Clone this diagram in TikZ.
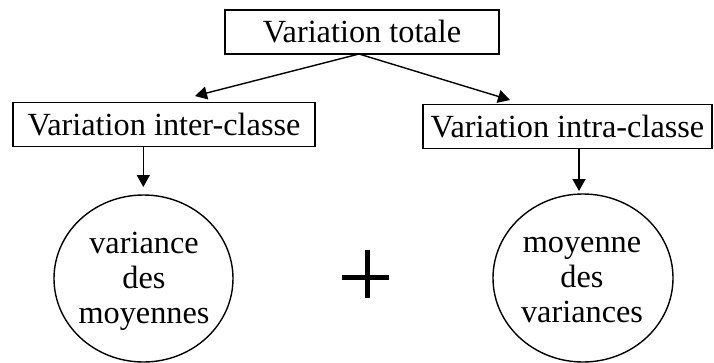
\documentclass[tikz,border=0pt]{standalone}
\usepackage{fontspec}
\setmainfont{Liberation Serif}
\usetikzlibrary{arrows.meta,shapes.geometric}
\begin{document}
\begin{tikzpicture}[x=1pt,y=-1pt,
  every node/.style={font=\fontsize{32.3}{35}\selectfont, inner sep=0pt, outer sep=0pt},
  labelbox/.style={draw, line width=1.4pt, minimum height=44pt},
  bubble/.style={draw, ellipse, line width=1.4pt},
  bubbletext/.style={align=center},
  link/.style={line width=1.4pt, -{Triangle[length=12pt,width=13pt]}},
  plusbar/.style={line width=5.5pt}
]
\useasboundingbox (0,0) rectangle (714,362);

% boxes
\node[labelbox, minimum width=274pt] (top) at (362,32) {Variation totale};
\node[labelbox, minimum width=302pt] (inter) at (164,124.5) {Variation inter-classe};
\node[labelbox, minimum width=289pt] (intra) at (567.5,126.5) {Variation intra-classe};

% circles and their texts
\node[bubble, minimum width=179pt, minimum height=167pt] (vm) at (143.5,278.5) {};
\node[bubbletext] (vmtext) at (144,281.3) {variance\\des\\moyennes};
\node[bubble, minimum width=180pt, minimum height=168pt] (mv) at (583,278) {};
\node[bubbletext] (mvtext) at (582,280.5) {moyenne\\des\\variances};

% arrow end points
\coordinate (split) at ([xshift=-3pt]top.south);
\coordinate (interhead) at (195,96);
\coordinate (intrahead) at (510,100);
\coordinate (vmhead) at (143.3,187);
\coordinate (mvhead) at (579,191);

\draw[link] (split) -- (interhead);
\draw[link] (split) -- (intrahead);
\draw[link] (vmhead |- inter.south) -- (vmhead);
\draw[link] (mvhead |- intra.south) -- (mvhead);

% plus sign between the two circles
\coordinate (plus) at (366,276);
\draw[plusbar] ([xshift=-24pt,yshift=-1.5pt]plus) -- ([xshift=23pt,yshift=-1.5pt]plus);
\draw[plusbar] ([xshift=1.5pt,yshift=-22pt]plus) -- ([xshift=1.5pt,yshift=26pt]plus);
\end{tikzpicture}
\end{document}
